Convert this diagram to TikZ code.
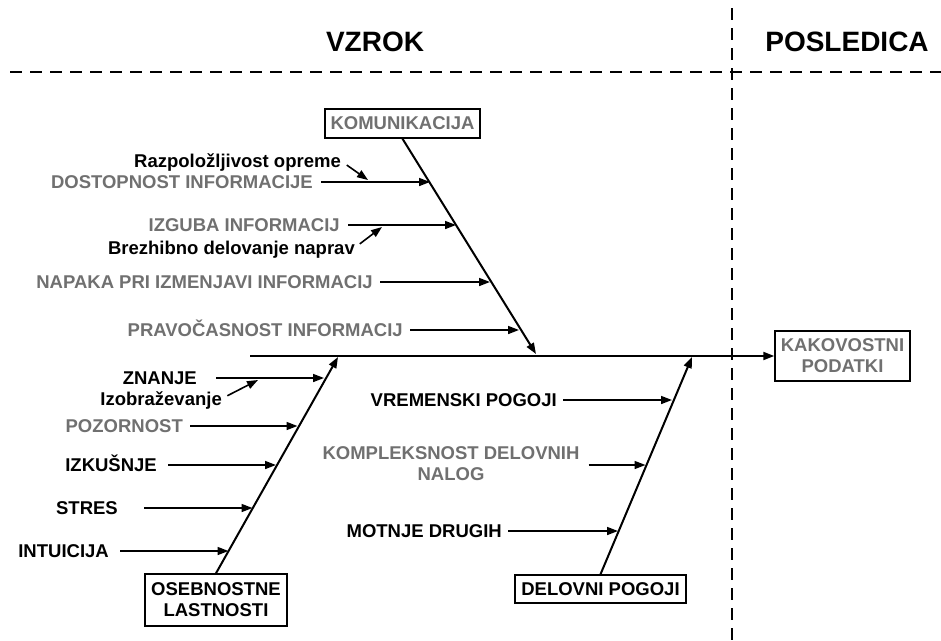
\documentclass[tikz,border=0pt]{standalone}
\usepackage{fontspec}
\setmainfont{Liberation Sans}
\usetikzlibrary{arrows.meta}
\definecolor{lgray}{RGB}{112,112,112}
\begin{document}
\begin{tikzpicture}[x=1pt,y=-1pt,
 lbl/.style={font=\fontsize{18.5}{21}\selectfont\bfseries, inner sep=0pt, anchor=east, text height=13pt, text depth=0pt},
 glbl/.style={lbl, text=lgray},
 box/.style={draw, line width=1.5pt, font=\fontsize{18.5}{21}\selectfont\bfseries, align=center, inner sep=0pt},
 bone/.style={line width=2pt, -{Triangle[length=11pt,width=8pt]}},
 arr/.style={line width=1.6pt, -{Triangle[length=11pt,width=8pt]}, shorten <=7pt},
 sep/.style={line width=1.5pt, dash pattern=on 12pt off 8pt},
 head/.style={font=\fontsize{28}{32}\selectfont\bfseries}
]
\useasboundingbox (0,0) rectangle (941,640);

% headings and separators
\node[head] (vz) at (375,42) {VZROK};
\node[head] (po) at (847,42) {POSLEDICA};
\coordinate (h0) at (10,72);
\coordinate (h1) at (941,72);
\coordinate (v0) at (732,8);
\coordinate (v1) at (732,640);
\draw[sep] (h0) -- (h1);
\draw[sep] (v0) -- (v1);

% boxes
\node[box, text=lgray, minimum width=155pt, minimum height=29pt] (kom) at (402.5,123.5) {KOMUNIKACIJA};
\node[box, text=lgray, minimum width=135pt, minimum height=50pt] (kak) at (842.5,356) {KAKOVOSTNI\\PODATKI};
\node[box, minimum width=142pt, minimum height=52pt] (osb) at (216,600) {OSEBNOSTNE\\LASTNOSTI};
\node[box, minimum width=171pt, minimum height=28pt] (del) at (600.5,589) {DELOVNI POGOJI};

% spine
\coordinate (sp0) at (250,356);
\draw[bone] (sp0) -- (kak.west);

% main bones
\coordinate (kt) at (536,354);
\coordinate (ot) at (338,357);
\coordinate (dt) at (692,357);
\draw[bone] (kom.south) -- (kt);
\draw[bone] (osb.north) -- (ot);
\draw[bone] (del.north) -- (dt);

% KOMUNIKACIJA causes
\node[lbl] (raz) at (341,161) {Razpoložljivost opreme};
\node[glbl] (dos) at (313,182) {DOSTOPNOST INFORMACIJE};
\node[glbl] (izg) at (340,225) {IZGUBA INFORMACIJ};
\node[lbl] (bre) at (355,247.5) {Brezhibno delovanje naprav};
\node[glbl] (nap) at (373,282) {NAPAKA PRI IZMENJAVI INFORMACIJ};
\node[glbl] (pra) at (403,330) {PRAVOČASNOST INFORMACIJ};
\coordinate (c1) at (430,182);
\coordinate (c2) at (456,225);
\coordinate (c3) at (490,282);
\coordinate (c4) at (519,330);
\coordinate (r1) at (368,180);
\coordinate (b1) at (382,227);
\draw[arr, shorten <=8pt] (dos.east |- c1) -- (c1);
\draw[arr, shorten <=8pt] (izg.east |- c2) -- (c2);
\draw[arr] (nap.east |- c3) -- (c3);
\draw[arr] (pra.east |- c4) -- (c4);
\draw[arr] (raz.east) -- (r1);
\draw[arr, shorten <=6pt] (bre.east) -- (b1);

% OSEBNOSTNE LASTNOSTI causes
\node[lbl] (zna) at (197,378) {ZNANJE};
\node[lbl] (izo) at (222,398.5) {Izobraževanje};
\node[glbl] (poz) at (183,426) {POZORNOST};
\node[lbl] (izk) at (157,465) {IZKUŠNJE};
\node[lbl] (str) at (118,508) {STRES};
\node[lbl] (int) at (109,551) {INTUICIJA};
\coordinate (o1) at (324,378);
\coordinate (o2) at (297.5,426);
\coordinate (o3) at (276,465);
\coordinate (o4) at (252.5,508);
\coordinate (o5) at (228.5,551);
\coordinate (i1) at (258,380);
\draw[arr, shorten <=19pt] (zna.east |- o1) -- (o1);
\draw[arr] (poz.east |- o2) -- (o2);
\draw[arr, shorten <=11pt] (izk.east |- o3) -- (o3);
\draw[arr, shorten <=26pt] (str.east |- o4) -- (o4);
\draw[arr, shorten <=11pt] (int.east |- o5) -- (o5);
\draw[arr, shorten <=6pt] (izo.east) -- (i1);

% DELOVNI POGOJI causes
\node[lbl] (vre) at (557,400) {VREMENSKI POGOJI};
\node[font=\fontsize{18.5}{21}\selectfont\bfseries, text=lgray, align=center, inner sep=0pt] (kmp) at (451,463.5) {KOMPLEKSNOST DELOVNIH\\NALOG};
\node[lbl] (mot) at (502,531) {MOTNJE DRUGIH};
\coordinate (d1) at (672,400);
\coordinate (d2) at (645.5,465);
\coordinate (d3) at (618,531);
\draw[arr, shorten <=6pt] (vre.east |- d1) -- (d1);
\draw[arr, shorten <=9pt] (kmp.east |- d2) -- (d2);
\draw[arr, shorten <=6pt] (mot.east |- d3) -- (d3);
\end{tikzpicture}
\end{document}
